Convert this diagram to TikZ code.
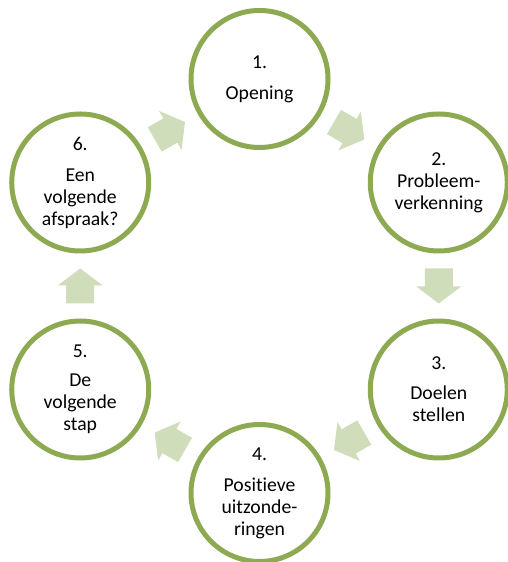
\documentclass[tikz,border=0pt]{standalone}
\usepackage{fontspec}
\setmainfont{Carlito}[Ligatures={NoCommon}]
\usetikzlibrary{calc}
\definecolor{ringgreen}{HTML}{8DAA52}
\definecolor{arrowgreen}{HTML}{CFDDBB}
\tikzset{
  stepcircle/.style={circle, draw=ringgreen, line width=5pt, fill=white,
    minimum size=137pt, inner sep=0pt, align=center,
    font=\fontsize{19.7}{22}\selectfont, text=black},
  cyclearrow/.pic={
    \fill[arrowgreen] (-17.5,-14) -- (0.5,-14) -- (0.5,-22.5) -- (17.5,0)
      -- (0.5,22.5) -- (0.5,14) -- (-17.5,14) -- cycle;
  }
}
\begin{document}
\begin{tikzpicture}[x=1pt,y=1pt]
\useasboundingbox (0,0) rectangle (508,562);
\coordinate (m) at (259.5,276);
\node[stepcircle] (n1) at ($(m)+(90:207)$)  {1.\\[9pt]Opening};
\node[stepcircle] (n2) at ($(m)+(30:207)$)  {2.\\Probleem-\\verkenning};
\node[stepcircle] (n3) at ($(m)+(-30:207)$) {3.\\[8pt]Doelen\\stellen};
\node[stepcircle] (n4) at ($(m)+(-90:207)$) {4.\\[9pt]Positieve\\uitzonde-\\ringen};
\node[stepcircle] (n5) at ($(m)+(210:207)$) {5.\\[7pt]De\\volgende\\stap};
\node[stepcircle] (n6) at ($(m)+(150:207)$) {6.\\[9pt]Een\\volgende\\afspraak?};
\pic[rotate=-30]  at ($(n1)!0.5!(n2)$) {cyclearrow};
\pic[rotate=-90]  at ($(n2)!0.5!(n3)$) {cyclearrow};
\pic[rotate=-150] at ($(n3)!0.5!(n4)$) {cyclearrow};
\pic[rotate=150]  at ($(n4)!0.5!(n5)$) {cyclearrow};
\pic[rotate=90]   at ($(n5)!0.5!(n6)$) {cyclearrow};
\pic[rotate=30]   at ($(n6)!0.5!(n1)$) {cyclearrow};
\end{tikzpicture}
\end{document}
